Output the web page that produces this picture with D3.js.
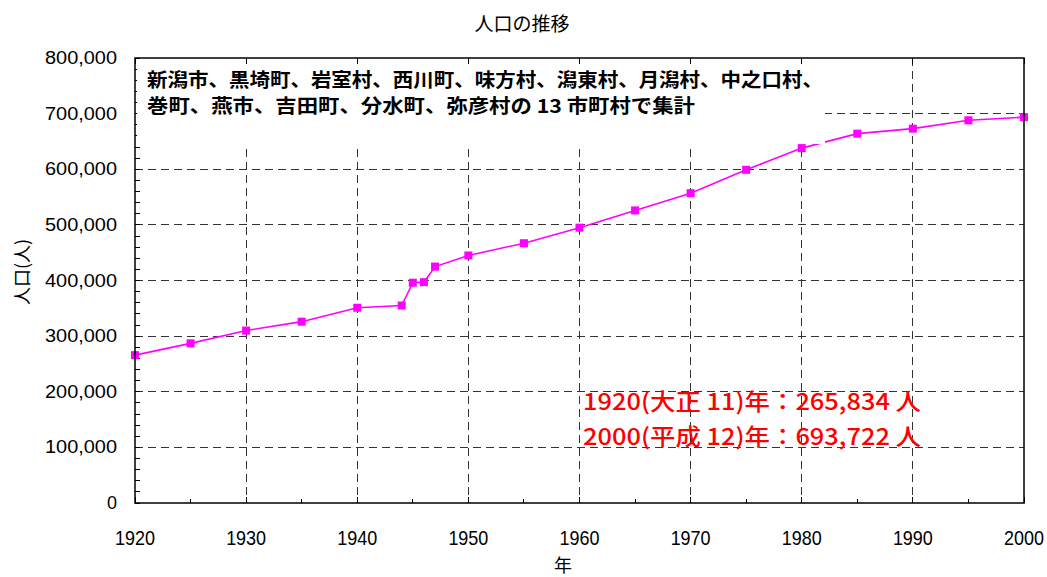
<!DOCTYPE html>
<html>
<head>
<meta charset="utf-8">
<script src="https://cdn.jsdelivr.net/npm/d3@7"></script>
<style>
    body { margin: 0; background: #fff; }
    svg { display: block; font-family: "Noto Sans CJK JP", "Liberation Sans", sans-serif; }
</style>
</head>
<body>
<svg id="chart" width="1047" height="577"></svg>
<script>

// data
var years = [1920, 1925, 1930, 1935, 1940, 1944, 1945, 1946, 1947, 1950, 1955, 1960, 1965, 1970, 1975, 1980, 1985, 1990, 1995, 2000];
var population = [265834, 287000, 310000, 326000, 351000, 355000, 396000, 397000, 425000, 445000, 467000, 495000, 526000, 557000, 599000, 638000, 664000, 673000, 688000, 693722];

var yTicks = [0, 100000, 200000, 300000, 400000, 500000, 600000, 700000, 800000];
var xTicks = [1920, 1930, 1940, 1950, 1960, 1970, 1980, 1990, 2000];

var titleText = "人口の推移";
var yLabel = "人口(人)";
var xLabel = "年";
var noteLines = [
    "新潟市、黒埼町、岩室村、西川町、味方村、潟東村、月潟村、中之口村、",
    "巻町、燕市、吉田町、分水町、弥彦村の 13 市町村で集計"
];
var redLines = [
    "1920(大正 11)年：265,834 人",
    "2000(平成 12)年：693,722 人"
];

var margin = {top: 58, right: 23, bottom: 74, left: 135};
var width = 1047 - margin.left - margin.right;
var height = 577 - margin.top - margin.bottom;

var svg = d3.select("#chart");

var xScale = d3.scaleLinear().domain([1920, 2000]).range([0, width]);
var yScale = d3.scaleLinear().domain([0, 800000]).range([height, 0]);

var g = svg.append("g")
    .attr("transform", "translate(" + margin.left + "," + margin.top + ")");

// grid lines
g.selectAll(".hgrid")
    .data(yTicks.slice(1, -1))
    .enter().append("line")
    .attr("x1", 0).attr("x2", width)
    .attr("y1", d => yScale(d)).attr("y2", d => yScale(d))
    .attr("stroke", "#333").attr("stroke-width", 1)
    .attr("stroke-dasharray", "8,5")
    .attr("shape-rendering", "crispEdges");

g.selectAll(".vgrid")
    .data(xTicks.slice(1, -1))
    .enter().append("line")
    .attr("x1", d => xScale(d)).attr("x2", d => xScale(d))
    .attr("y1", 0).attr("y2", height)
    .attr("stroke", "#333").attr("stroke-width", 1)
    .attr("stroke-dasharray", "8,5")
    .attr("shape-rendering", "crispEdges");

// minor ticks, pointing inside
g.selectAll(".ytick")
    .data(d3.range(0, 800001, 20000))
    .enter().append("line")
    .attr("x1", 0).attr("x2", 5)
    .attr("y1", d => yScale(d)).attr("y2", d => yScale(d))
    .attr("stroke", "#000")
    .attr("shape-rendering", "crispEdges");

g.selectAll(".xtick")
    .data(d3.range(1920, 2001, 5))
    .enter().append("line")
    .attr("x1", d => xScale(d)).attr("x2", d => xScale(d))
    .attr("y1", height).attr("y2", d => height - (d % 10 == 0 ? 6 : 4))
    .attr("stroke", "#000")
    .attr("shape-rendering", "crispEdges");

g.selectAll(".ttick")
    .data(d3.range(1920, 2001, 10))
    .enter().append("line")
    .attr("x1", d => xScale(d)).attr("x2", d => xScale(d))
    .attr("y1", 0).attr("y2", 6)
    .attr("stroke", "#000")
    .attr("shape-rendering", "crispEdges");

// the series line
var line = d3.line()
    .x((d, i) => xScale(years[i]))
    .y(d => yScale(d));

g.append("path")
    .datum(population)
    .attr("d", line)
    .attr("fill", "none")
    .attr("stroke", "#ff00ff")
    .attr("stroke-width", 1.6);

// white note box over grid + line
g.append("rect")
    .attr("x", 2).attr("y", 6)
    .attr("width", 688).attr("height", 80)
    .attr("fill", "#fff");

g.selectAll(".note")
    .data(noteLines)
    .enter().append("text")
    .attr("x", 12)
    .attr("y", (d, i) => 29 + i * 26)
    .attr("font-size", 19)
    .attr("font-weight", "bold")
    .attr("fill", "#000")
    .attr("textLength", (d, i) => i == 0 ? 676 : 548)
    .attr("lengthAdjust", "spacingAndGlyphs")
    .text(d => d);

// markers
g.selectAll(".marker")
    .data(population)
    .enter().append("rect")
    .attr("x", (d, i) => xScale(years[i]) - 4)
    .attr("y", d => yScale(d) - 4)
    .attr("width", 8).attr("height", 8)
    .attr("fill", "#ff00ff");

// frame
g.append("rect")
    .attr("width", width).attr("height", height)
    .attr("fill", "none")
    .attr("stroke", "#000").attr("stroke-width", 1.5);

// axis labels
g.selectAll(".ylab")
    .data(yTicks)
    .enter().append("text")
    .attr("x", -18)
    .attr("y", d => yScale(d) + 6)
    .attr("text-anchor", "end")
    .attr("font-family", "Liberation Sans, Arial, sans-serif")
    .attr("font-size", 18)
    .attr("fill", "#000")
    .attr("textLength", d => d == 0 ? null : 72)
    .attr("lengthAdjust", "spacingAndGlyphs")
    .text(d => d3.format(",")(d));

g.selectAll(".xlab")
    .data(xTicks)
    .enter().append("text")
    .attr("x", d => xScale(d))
    .attr("y", height + 42)
    .attr("text-anchor", "middle")
    .attr("font-family", "Liberation Sans, Arial, sans-serif")
    .attr("font-size", 21)
    .attr("fill", "#000")
    .attr("textLength", 40)
    .attr("lengthAdjust", "spacingAndGlyphs")
    .text(d => d);

// red annotation
g.selectAll(".red")
    .data(redLines)
    .enter().append("text")
    .attr("x", 448)
    .attr("y", (d, i) => 352 + i * 35)
    .attr("font-size", 23)
    .attr("font-weight", 500)
    .attr("fill", "#ff0000")
    .attr("textLength", 338)
    .attr("lengthAdjust", "spacingAndGlyphs")
    .text(d => d);

// titles
svg.append("text")
    .attr("x", 522).attr("y", 31)
    .attr("text-anchor", "middle")
    .attr("font-size", 19)
    .attr("fill", "#000")
    .text(titleText);

svg.append("text")
    .attr("transform", "translate(29,272) rotate(-90)")
    .attr("text-anchor", "middle")
    .attr("font-size", 18)
    .attr("fill", "#000")
    .text(yLabel);

svg.append("text")
    .attr("x", 563).attr("y", 572)
    .attr("text-anchor", "middle")
    .attr("font-size", 18)
    .attr("fill", "#000")
    .text(xLabel);

</script>
</body>
</html>
